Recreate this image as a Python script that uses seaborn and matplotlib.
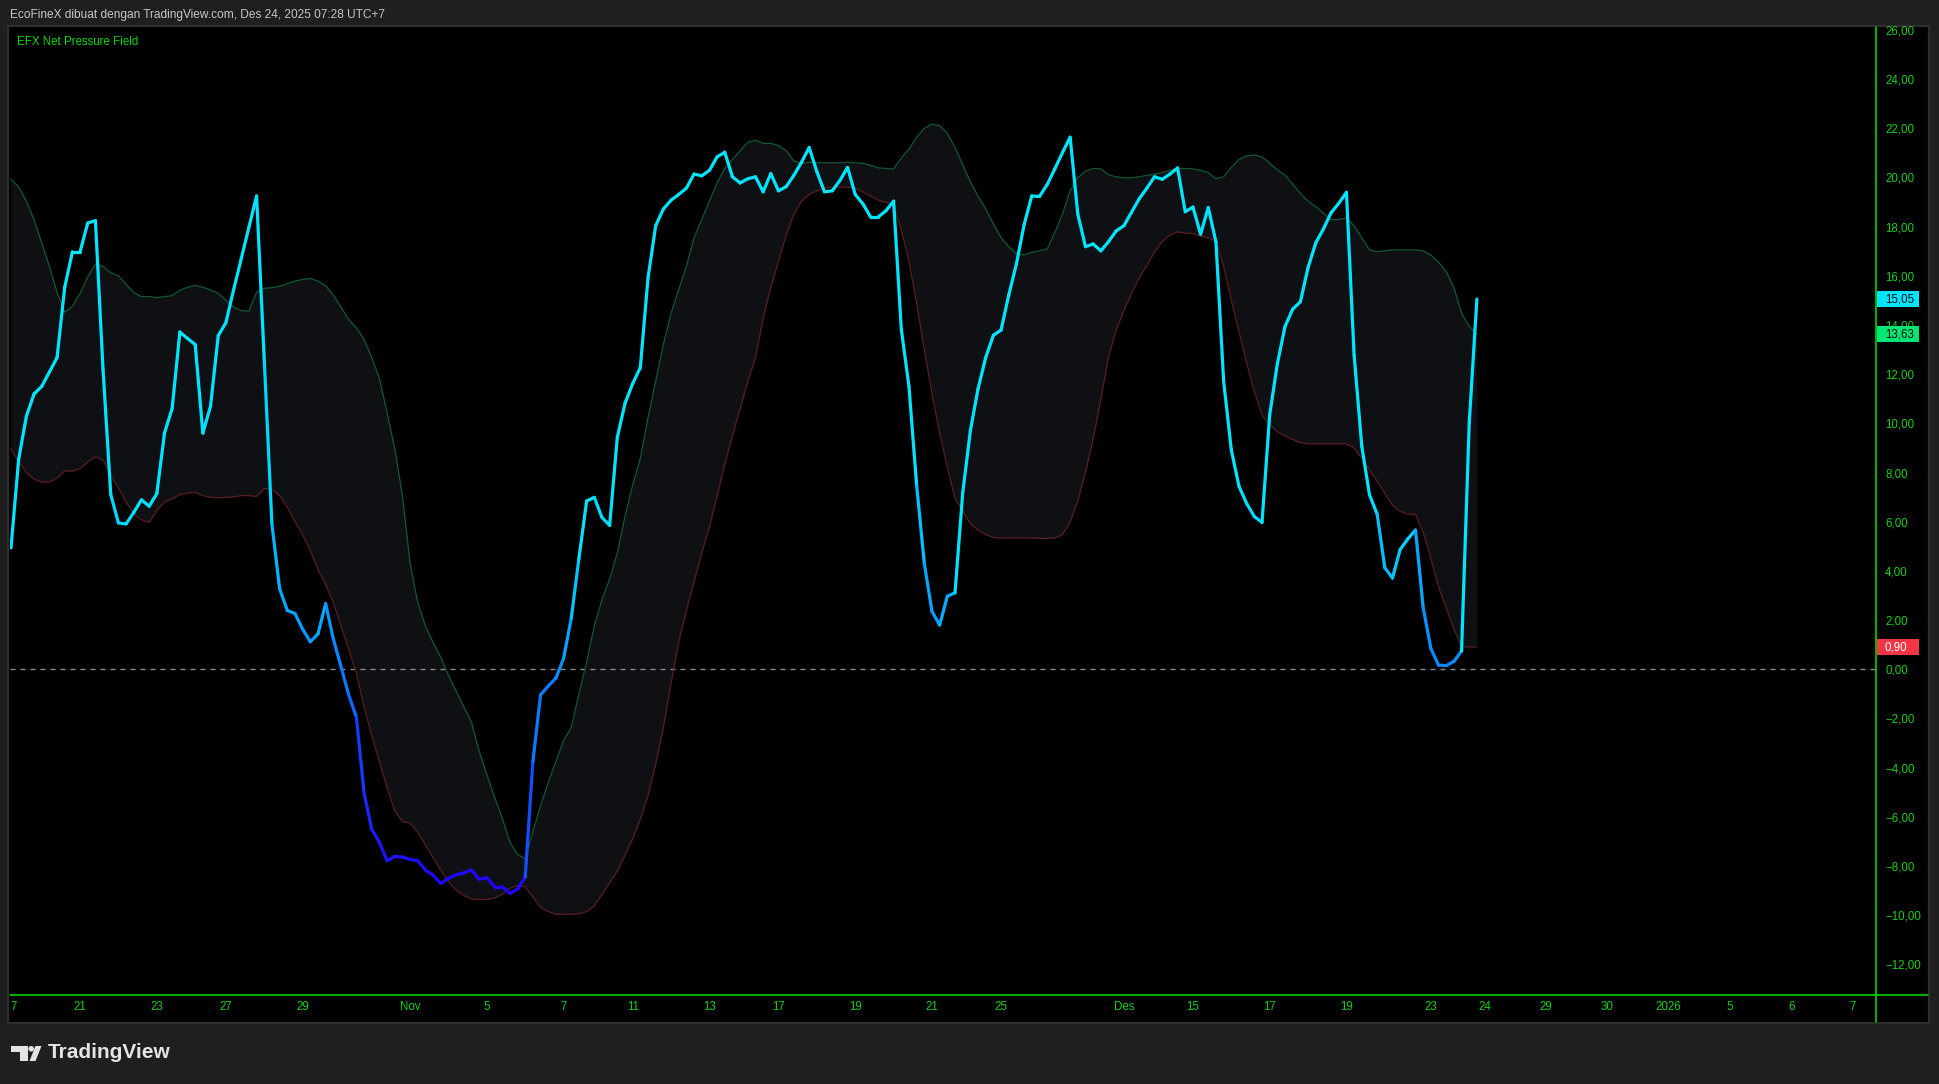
import numpy as np
import pandas as pd
import matplotlib
matplotlib.use("Agg")
import matplotlib.pyplot as plt
import seaborn as sns
from matplotlib.collections import LineCollection
from matplotlib.colors import LinearSegmentedColormap, Normalize
from matplotlib.patches import Rectangle, Ellipse, Polygon
from matplotlib.lines import Line2D
import matplotlib.transforms as mtransforms

# ---------------- data ----------------
net_pressure = [
    4.94, 8.54, 10.28, 11.19, 11.50, 12.08, 12.67, 15.53, 16.97, 16.97,
    18.14, 18.24, 12.14, 7.10, 5.95, 5.91, 6.38, 6.89, 6.63, 7.14,
    9.60, 10.61, 13.71, 13.45, 13.20, 9.60, 10.70, 13.56, 14.09, 15.42,
    16.69, 17.97, 19.24, 12.56, 5.89, 3.28, 2.39, 2.27, 1.63, 1.12,
    1.44, 2.67, 1.23, 0.11, -1.04, -1.95, -5.02, -6.50, -7.03,
    -7.78, -7.61, -7.63, -7.73, -7.78, -8.16, -8.37, -8.71, -8.50, -8.35,
    -8.28, -8.16, -8.54, -8.47, -8.83, -8.83, -9.11, -8.94, -8.45, -3.75,
    -1.04, -0.68, -0.36, 0.44, 2.08, 4.51, 6.84, 6.99, 6.17, 5.85,
    9.43, 10.81, 11.61, 12.27, 15.91, 18.03, 18.71, 19.07, 19.30, 19.56,
    20.13, 20.06, 20.28, 20.83, 21.02, 20.02, 19.77, 19.94,
    20.02, 19.41, 20.15, 19.45, 19.62, 20.08, 20.61, 21.21, 20.23, 19.41,
    19.45, 19.87, 20.40, 19.30, 18.92, 18.39, 18.39, 18.64, 19.03, 13.83,
    11.50, 7.48, 4.30, 2.35, 1.80, 2.97, 3.11, 7.16, 9.70, 11.40,
    12.67, 13.58, 13.79, 15.21, 16.48, 18.07, 19.24, 19.22, 19.70, 20.34,
    21.00, 21.63, 18.50, 17.18, 17.29, 17.01, 17.38, 17.82,
    18.03, 18.58, 19.13, 19.56, 20.02, 19.92, 20.13, 20.38, 18.60, 18.79,
    17.69, 18.77, 17.37, 11.72, 8.92, 7.44, 6.74, 6.21, 5.97, 10.34,
    12.42, 13.94, 14.64, 14.94, 16.33, 17.33, 17.90, 18.56, 18.94, 19.39,
    12.78, 9.07, 7.10, 6.31, 4.13, 3.71, 4.87, 5.30, 5.66, 2.50,
    0.85, 0.17, 0.15, 0.32, 0.74, 10.02, 15.05,
]

upper_band = [
    19.92, 19.60, 19.03, 18.28, 17.33, 16.38, 15.32, 14.51, 14.75, 15.28,
    15.95, 16.48, 16.38, 16.12, 16.00, 15.64, 15.32, 15.15, 15.15, 15.11,
    15.15, 15.19, 15.40, 15.53, 15.61, 15.53, 15.42, 15.28, 15.00, 14.72,
    14.58, 14.56, 15.32, 15.49, 15.51, 15.57, 15.68, 15.78, 15.85, 15.89,
    15.78, 15.59, 15.21, 14.72, 14.22, 13.88, 13.41, 12.67, 11.82,
    10.44, 8.96, 7.06, 4.30, 2.71, 1.76, 1.08, 0.49, -0.25, -0.89,
    -1.53, -2.16, -3.33, -4.28, -5.19, -6.04, -7.03, -7.52, -7.71, -6.61,
    -5.55, -4.60, -3.75, -2.90, -2.37, -1.00, 0.28, 1.76, 2.82, 3.67,
    4.72, 6.21, 7.48, 8.58, 10.23, 11.72, 13.20, 14.47, 15.42, 16.38,
    17.54, 18.28, 19.03, 19.77, 20.36, 20.72, 21.08, 21.42,
    21.50, 21.38, 21.38, 21.29, 21.08, 20.66, 20.57, 20.61, 20.59, 20.59,
    20.59, 20.59, 20.61, 20.59, 20.57, 20.49, 20.38, 20.36, 20.34, 20.78,
    21.14, 21.63, 21.99, 22.16, 22.10, 21.78, 21.21, 20.51, 19.81, 19.24,
    18.71, 18.11, 17.54, 17.18, 16.91, 16.84, 16.95, 17.01, 17.08, 17.75,
    18.50, 19.45, 19.98, 20.25, 20.36, 20.34, 20.10, 20.02,
    19.98, 19.98, 20.02, 20.08, 20.13, 20.19, 20.28, 20.36, 20.36, 20.34,
    20.28, 20.19, 19.94, 20.02, 20.40, 20.72, 20.87, 20.91, 20.83, 20.57,
    20.30, 20.08, 19.72, 19.34, 19.03, 18.81, 18.54, 18.28, 18.28, 18.35,
    18.03, 17.54, 17.05, 16.97, 17.01, 17.05, 17.05, 17.05, 17.05, 17.01,
    16.84, 16.55, 16.17, 15.53, 14.47, 13.94, 13.63,
]

lower_band = [
    8.96, 8.43, 8.01, 7.73, 7.61, 7.61, 7.78, 8.07, 8.05, 8.16,
    8.43, 8.64, 8.50, 7.90, 7.37, 6.80, 6.31, 6.08, 5.97, 6.46,
    6.80, 6.93, 7.10, 7.16, 7.20, 7.06, 6.99, 6.97, 6.99, 7.01,
    7.06, 7.06, 7.03, 7.35, 7.31, 7.06, 6.59, 6.00, 5.47, 4.83,
    4.05, 3.45, 2.71, 1.76, 0.81, -0.15, -1.53, -2.69, -3.75,
    -4.81, -5.76, -6.19, -6.25, -6.61, -7.14, -7.67, -8.16, -8.62, -8.98,
    -9.19, -9.34, -9.36, -9.36, -9.30, -9.15, -8.90, -8.79, -8.83, -9.26,
    -9.68, -9.85, -9.96, -9.96, -9.96, -9.94, -9.85, -9.62, -9.15, -8.67,
    -8.20, -7.56, -6.89, -6.08, -5.13, -3.86, -2.37, -0.57, 1.12, 2.39,
    3.56, 4.72, 5.78, 7.06, 8.33, 9.49, 10.60, 11.70,
    12.67, 14.26, 15.53, 16.59, 17.65, 18.50, 19.03, 19.30, 19.45, 19.56,
    19.60, 19.60, 19.60, 19.56, 19.41, 19.24, 19.07, 18.98, 18.88, 17.86,
    16.59, 14.89, 12.99, 11.19, 9.60, 8.22, 6.95, 6.42, 5.93, 5.66,
    5.47, 5.36, 5.34, 5.34, 5.34, 5.34, 5.34, 5.32, 5.32, 5.34,
    5.47, 6.00, 6.84, 8.01, 9.39, 10.97, 12.70, 13.80,
    14.58, 15.28, 15.91, 16.42, 16.97, 17.39, 17.65, 17.78, 17.73, 17.71,
    17.61, 17.54, 17.39, 16.38, 15.00, 13.73, 12.46, 11.29, 10.34, 9.92,
    9.66, 9.49, 9.34, 9.22, 9.17, 9.17, 9.17, 9.17, 9.17, 9.17,
    9.00, 8.58, 8.11, 7.65, 7.16, 6.67, 6.42, 6.31, 6.29, 5.57,
    4.51, 3.35, 2.50, 1.65, 0.91, 0.91, 0.90,
]

x_tick_pos = [0.3, 9, 19, 28, 38, 52, 62, 72, 81, 91, 100, 110, 120, 129,
              145, 154, 164, 174, 185, 192, 200, 208, 216, 224, 232, 240]
x_tick_labels = ["7", "21", "23", "27", "29", "Nov", "5", "7", "11", "13",
                 "17", "19", "21", "25", "Des", "15", "17", "19", "23", "24",
                 "29", "30", "2026", "5", "6", "7"]
y_ticks = list(range(-12, 27, 2))

title_text = "EcoFineX dibuat dengan TradingView.com, Des 24, 2025 07:28 UTC+7"
legend_text = "EFX Net Pressure Field"

# ---------------- style ----------------
sns.set_theme(style="dark")
plt.rcParams["font.family"] = ["Liberation Sans", "DejaVu Sans"]
plt.rcParams["axes.unicode_minus"] = True

W, H = 1940, 1084
BG = "#1f1f1f"
GREEN_TXT = "#14d014"
GREEN_LINE = "#00e600"

fig = plt.figure(figsize=(W / 100, H / 100), dpi=100, facecolor=BG)


def fx(p):
    return p / W


def fy(p):
    return 1 - p / H


# chart panel (black, thin grey frame)
fig.add_artist(Rectangle((fx(8), fy(1023)), fx(1929) - fx(8), fy(26) - fy(1023),
                         transform=fig.transFigure, facecolor="black",
                         edgecolor="#2e2e2e", lw=1.6, zorder=-10))

ax = fig.add_axes([fx(10), fy(995), (1876 - 10) / W, (995 - 27) / H])
ax.set_facecolor("black")

df = pd.DataFrame({
    "bar": np.arange(len(net_pressure)),
    "npf": net_pressure,
    "upper": upper_band,
    "lower": lower_band,
})

# band fill + band edges
ax.fill_between(df["bar"], df["lower"], df["upper"], color="#0e1014", lw=0, zorder=1)
sns.lineplot(data=df, x="bar", y="upper", ax=ax, color="#105a32", lw=0.9, zorder=2)
sns.lineplot(data=df, x="bar", y="lower", ax=ax, color="#5c1d1d", lw=0.9, zorder=2)

# zero line
ax.axhline(0, color="#8c8c8c", lw=1.0, ls=(0, (3.6, 3.6)), zorder=1.5)

# gradient-coloured main line (each segment coloured by its end bar value)
xv = df["bar"].to_numpy(dtype=float)
yv = df["npf"].to_numpy(dtype=float)
segs = np.stack([np.column_stack([xv[:-1], yv[:-1]]),
                 np.column_stack([xv[1:], yv[1:]])], axis=1)
cmap = LinearSegmentedColormap.from_list("npf", ["#2000ff", "#0a78ff", "#00e5ff"])
norm = Normalize(vmin=-9, vmax=7, clip=True)
lc = LineCollection(segs, colors=cmap(norm(yv[1:])), linewidths=2.3,
                    capstyle="round", joinstyle="round", zorder=4)
ax.add_collection(lc)

ax.set_xlim(-0.13, 243.0)
ax.set_ylim(-13.24, 26.11)
ax.set_xlabel("")
ax.set_ylabel("")
ax.grid(False)
for s in ax.spines.values():
    s.set_visible(False)

ax.yaxis.tick_right()
ax.set_yticks(y_ticks)
ax.set_yticklabels([f"{v:.2f}".replace(".", ",").replace("-", "\u2212") for v in y_ticks])
ax.tick_params(axis="y", length=0, pad=6.5, labelcolor=GREEN_TXT, labelsize=8.3)
ax.set_xticks(x_tick_pos)
ax.set_xticklabels(x_tick_labels)
ax.tick_params(axis="x", length=0, pad=4.5, labelcolor=GREEN_TXT, labelsize=8.3)

# green axis lines (price scale border and time scale border)
fig.add_artist(Line2D([fx(1876), fx(1876)], [fy(27), fy(1022)], color=GREEN_LINE, lw=1.1))
fig.add_artist(Line2D([fx(10), fx(1928)], [fy(995), fy(995)], color=GREEN_LINE, lw=1.1))

# last-value boxes on the price scale (the 14,00 tick sits partly behind, as in TradingView)
blend = mtransforms.blended_transform_factory(ax.transAxes, ax.transData)
last_vals = [
    (upper_band[-1], "#00e676", "#0b0b0b"),
    (net_pressure[-1], "#00e5ff", "#0b0b0b"),
    (lower_band[-1], "#f23645", "#ffffff"),
]
for val, fc, tc in last_vals:
    ax.add_patch(Rectangle((1.0005, val - 0.33), 0.0225, 0.66, transform=blend,
                           facecolor=fc, edgecolor="none", clip_on=False, zorder=6))
    ax.text(1.0048, val, f"{val:.2f}".replace(".", ","), transform=blend,
            ha="left", va="center", color=tc, fontsize=8.3, clip_on=False, zorder=7)

# header text and indicator name
fig.text(fx(10), fy(15), title_text, color="#c6c6c6", fontsize=8.6, ha="left", va="center")
fig.text(fx(17), fy(42), legend_text, color="#00dc00", fontsize=8.3, ha="left", va="center")

# TradingView logo
logo_c = "#e4e4e4"
fig.add_artist(Rectangle((fx(11), fy(1051.5)), fx(28) - fx(11), fy(1046) - fy(1051.5),
                         transform=fig.transFigure, facecolor=logo_c, edgecolor="none"))
fig.add_artist(Rectangle((fx(20), fy(1061)), fx(28) - fx(20), fy(1046) - fy(1061),
                         transform=fig.transFigure, facecolor=logo_c, edgecolor="none"))
fig.add_artist(Ellipse((fx(31.2), fy(1048.8)), 5.6 / W, 5.6 / H,
                       transform=fig.transFigure, facecolor=logo_c, edgecolor="none"))
fig.add_artist(Polygon([(fx(35.5), fy(1046)), (fx(41.5), fy(1046)),
                        (fx(35.5), fy(1061)), (fx(29.5), fy(1061))],
                       closed=True, transform=fig.transFigure,
                       facecolor=logo_c, edgecolor="none"))
fig.text(fx(48), fy(1053), "TradingView", color=logo_c, fontsize=15.0,
         fontweight="bold", ha="left", va="center")

fig.savefig("out.png", dpi=100, facecolor=BG)
